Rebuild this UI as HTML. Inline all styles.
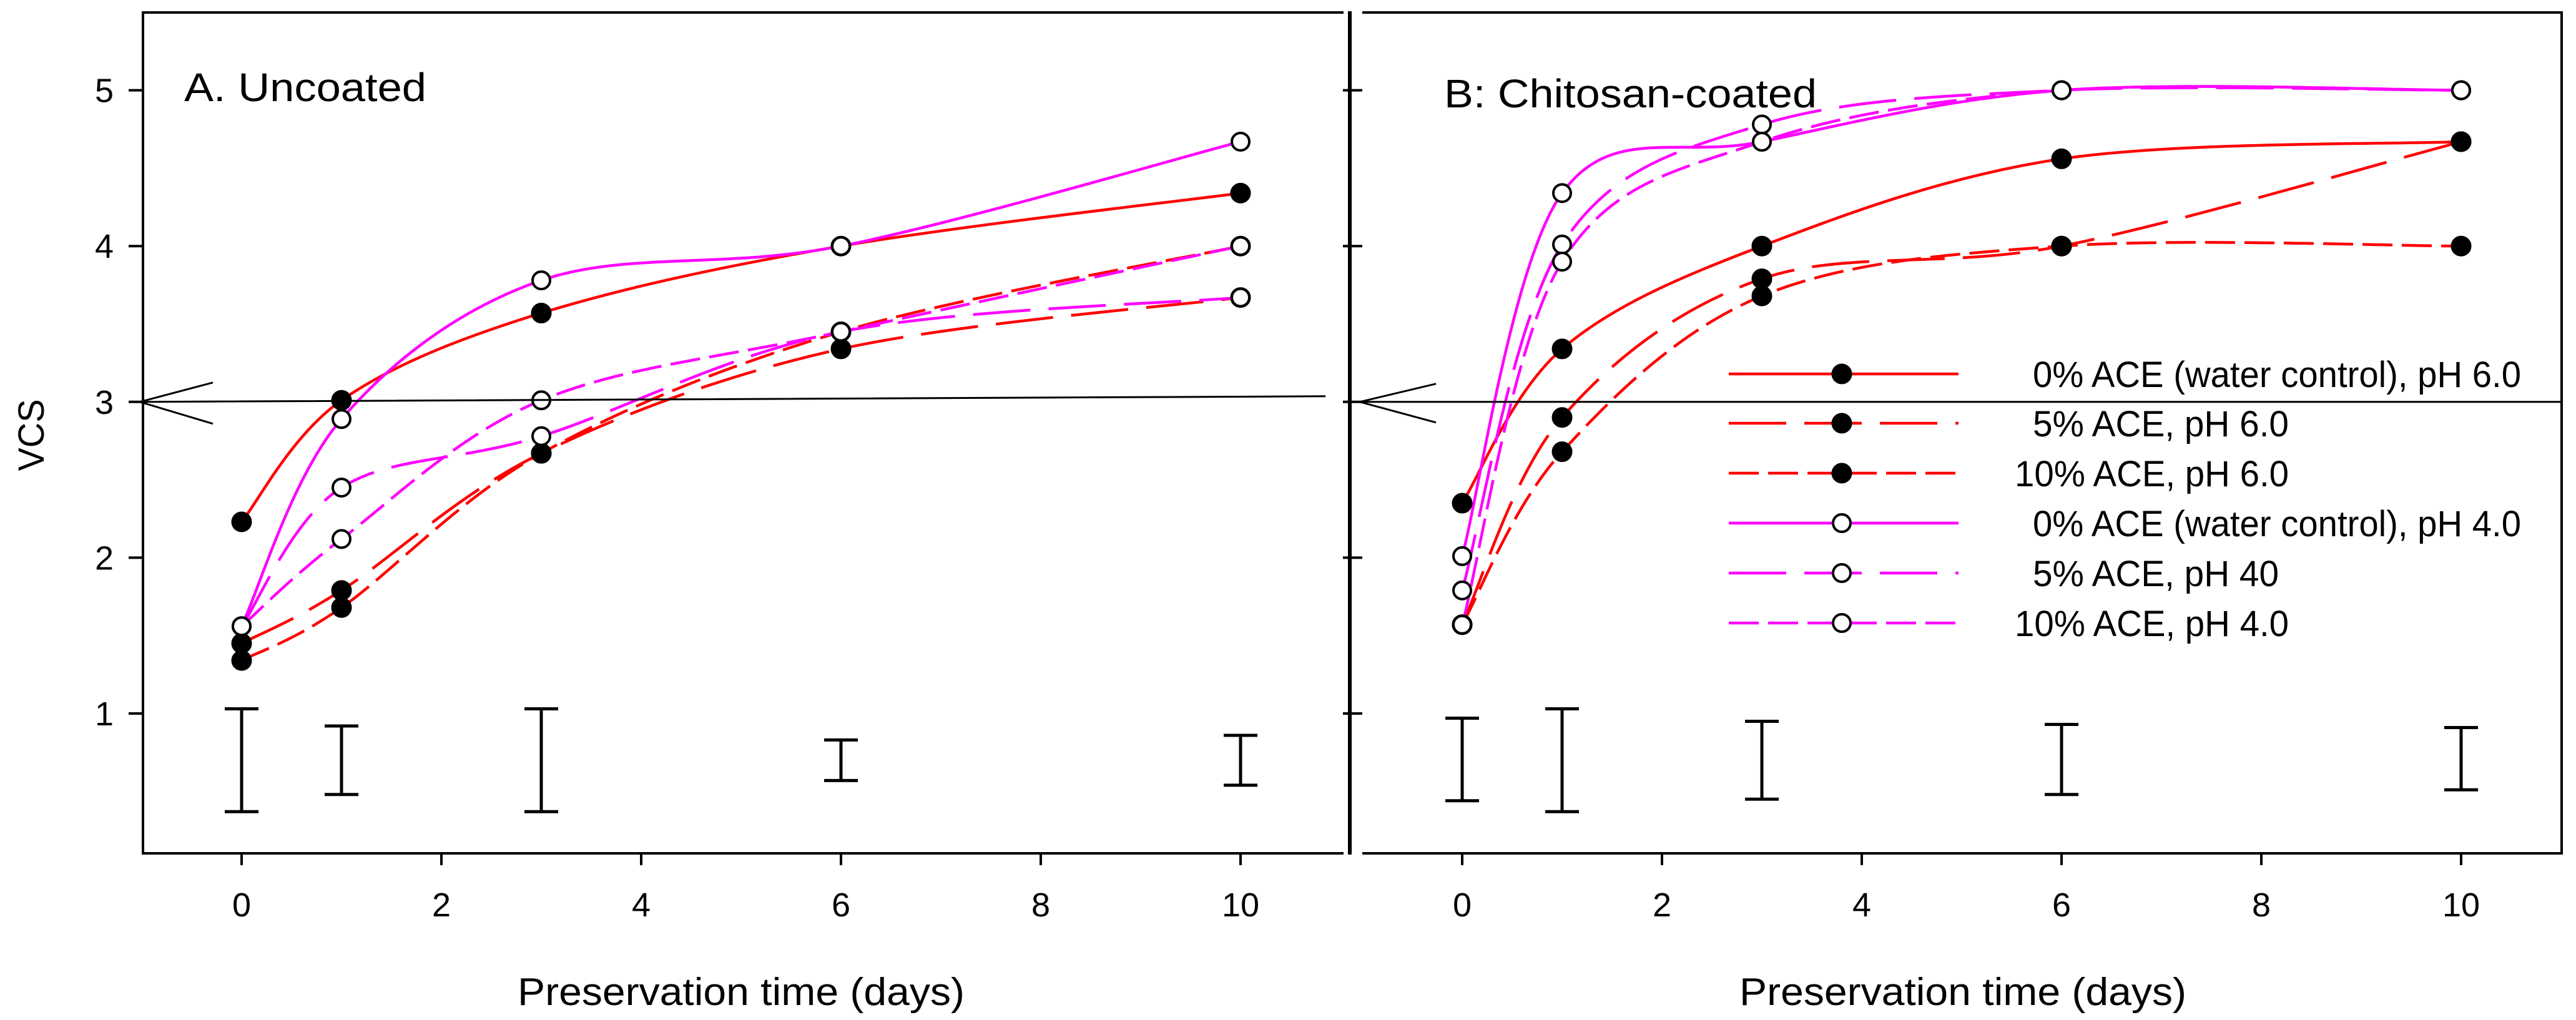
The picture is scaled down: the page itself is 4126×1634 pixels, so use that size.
<!DOCTYPE html>
<html><head><meta charset="utf-8"><style>
html,body{margin:0;padding:0;background:#fff}
svg{display:block}
text{font-family:"Liberation Sans Narrow","Liberation Sans",sans-serif;fill:#000}
</style></head><body>
<svg id="chart" width="4126" height="1634" viewBox="0 0 4126 1634" xmlns="http://www.w3.org/2000/svg">
<g id="root"></g>
</svg>
<script>
const days = [0, 1, 3, 6, 10];
const xTicks = [0, 2, 4, 6, 8, 10];
const yTicks = [1, 2, 3, 4, 5];
const seriesNames = ["0% ACE (water control), pH 6.0","5% ACE, pH 6.0","10% ACE, pH 6.0","0% ACE (water control), pH 4.0","5% ACE, pH 40","10% ACE, pH 4.0"];
const seriesKeys = ["ace0-ph6","ace5-ph6","ace10-ph6","ace0-ph4","ace5-ph4","ace10-ph4"];
// Panel A: uncoated
const a_ace0_ph6 = [2.23, 3.01, 3.57, 4.0, 4.34];
const a_ace5_ph6 = [1.45, 1.79, 2.67, 3.34, 3.67];
const a_ace10_ph6 = [1.34, 1.68, 2.67, 3.45, 4.0];
const a_ace0_ph4 = [1.56, 2.89, 3.78, 4.0, 4.67];
const a_ace5_ph4 = [1.56, 2.45, 2.78, 3.45, 3.67];
const a_ace10_ph4 = [1.56, 2.12, 3.01, 3.45, 4.0];
const a_errTop = [1.03, 0.92, 1.03, 0.83, 0.86];
const a_errBot = [0.37, 0.48, 0.37, 0.57, 0.54];
// Panel B: chitosan-coated
const b_ace0_ph6 = [2.35, 3.34, 4.0, 4.56, 4.67];
const b_ace5_ph6 = [1.57, 2.9, 3.79, 4.0, 4.67];
const b_ace10_ph6 = [1.57, 2.68, 3.68, 4.0, 4.0];
const b_ace0_ph4 = [2.01, 4.34, 4.67, 5.0, 5.0];
const b_ace5_ph4 = [1.79, 4.01, 4.78, 5.0, 5.0];
const b_ace10_ph4 = [1.57, 3.9, 4.67, 5.0, 5.0];
const b_errTop = [0.97, 1.03, 0.95, 0.93, 0.91];
const b_errBot = [0.44, 0.37, 0.45, 0.48, 0.51];
const thresholdVCS = 3;

const NS = "http://www.w3.org/2000/svg";
const root = document.getElementById("root");
function mk(tag, attrs, parent) {
  const e = document.createElementNS(NS, tag);
  for (const k in attrs) e.setAttribute(k, attrs[k]);
  (parent || root).appendChild(e);
  return e;
}
const styles = [
  {c:"#ff0000", d:"", fill:"#000"},
  {c:"#ff0000", d:"92 29", fill:"#000"},
  {c:"#ff0000", d:"48 15", fill:"#000"},
  {c:"#ff00ff", d:"", fill:"#fff"},
  {c:"#ff00ff", d:"92 29", fill:"#fff"},
  {c:"#ff00ff", d:"48 15", fill:"#fff"}
];
function yScale(v) { return 1143 - (v - 1) * 249.6; }
function spline(pts) {
  let d = "M" + pts[0][0] + "," + pts[0][1];
  for (let i = 0; i < pts.length - 1; i++) {
    const p0 = pts[i - 1] || pts[i], p1 = pts[i], p2 = pts[i + 1], p3 = pts[i + 2] || pts[i + 1];
    const c1x = p1[0] + (p2[0] - p0[0]) / 6, c1y = p1[1] + (p2[1] - p0[1]) / 6;
    const c2x = p2[0] - (p3[0] - p1[0]) / 6, c2y = p2[1] - (p3[1] - p1[1]) / 6;
    d += " C" + c1x + "," + c1y + " " + c2x + "," + c2y + " " + p2[0] + "," + p2[1];
  }
  return d;
}
function panel(id, x0, xLeft, xRight, hasLeftAxis, series, errTop, errBot, title, titleX, titleW, titleY, axTitleX) {
  const xs = v => x0 + v * 160;
  const g = mk("g", {});
  
  
  const fr = mk("path", {d:"M"+xLeft+",20 H"+xRight+" M"+xLeft+",1367 H"+xRight + (hasLeftAxis ? " M"+xLeft+",18 V1369" : " M"+xRight+",18 V1369"), stroke:"#000","stroke-width":4,fill:"none"}, g);
  
  
  xTicks.forEach(t => {
    const tk = mk("line", {x1:xs(t), x2:xs(t), y1:1367, y2:1386, stroke:"#000","stroke-width":4}, g);
    
    
    const lb = mk("text", {x:xs(t), y:1468, "font-size":54, "text-anchor":"middle"}, g);
    lb.textContent = t;
    
    
  });
  const at = mk("text", {x:axTitleX, y:1610, "font-size":62, "text-anchor":"middle", textLength:716, lengthAdjust:"spacingAndGlyphs"}, g);
  at.textContent = "Preservation time (days)";
  
  
  const tt = mk("text", {x:titleX, y:titleY, "font-size":64, textLength:titleW, lengthAdjust:"spacingAndGlyphs"}, g);
  tt.textContent = title;
  
  
  series.forEach((vals, si) => {
    const pts = days.map((d, i) => [xs(d), yScale(vals[i])]);
    const p = mk("path", {d:spline(pts), stroke:styles[si].c, "stroke-width":4.5, fill:"none", "stroke-dasharray":styles[si].d || "none"}, g);
    
    
  });
  series.forEach((vals, si) => {
    days.forEach((d, i) => {
      const c = mk("circle", {cx:xs(d), cy:yScale(vals[i]), r:styles[si].fill === "#000" ? 16 : 14, fill:styles[si].fill, stroke:"#000", "stroke-width":styles[si].fill === "#000" ? 1 : 4}, g);
      
      
    });
  });
  days.forEach((d, i) => {
    const x = xs(d), t = yScale(errTop[i]), b = yScale(errBot[i]);
    const e = mk("path", {d:"M"+x+","+t+" V"+b+" M"+(x-27)+","+t+" H"+(x+27)+" M"+(x-27)+","+b+" H"+(x+27), stroke:"#000","stroke-width":5, fill:"none"}, g);
    
    
  });
  return g;
}
const seriesA = [a_ace0_ph6, a_ace5_ph6, a_ace10_ph6, a_ace0_ph4, a_ace5_ph4, a_ace10_ph4];
const seriesB = [b_ace0_ph6, b_ace5_ph6, b_ace10_ph6, b_ace0_ph4, b_ace5_ph4, b_ace10_ph4];
panel("panel-a-uncoated", 387, 229, 2152, true, seriesA, a_errTop, a_errBot, "A. Uncoated", 295, 388, 162, 1187);
panel("panel-b-chitosan-coated", 2342, 2182, 4103, false, seriesB, b_errTop, b_errBot, "B: Chitosan-coated", 2313, 597, 172, 3144);

const mid = mk("line", {x1:2162, x2:2162, y1:18, y2:1369, stroke:"#000", "stroke-width":6});


yTicks.forEach(t => {
  const y = yScale(t);
  const a = mk("line", {x1:206, x2:229, y1:y, y2:y, stroke:"#000", "stroke-width":4});
  
  
  const b = mk("line", {x1:2151, x2:2182, y1:y, y2:y, stroke:"#000", "stroke-width":4});
  
  
  const l = mk("text", {x:182, y:y + 19, "font-size":54, "text-anchor":"end"});
  l.textContent = t;
  
  
});
const yt = mk("text", {x:0, y:0, "font-size":58, "text-anchor":"middle", textLength:115, lengthAdjust:"spacingAndGlyphs", transform:"translate(70,697) rotate(-90)"});
yt.textContent = "VCS";



const ty = yScale(thresholdVCS);
const th1 = mk("path", {d:"M224,"+ty+" L2123,"+(ty-9)+" M341,"+(ty-31)+" L224,"+ty+" L341,"+(ty+35), stroke:"#000", "stroke-width":3, fill:"none"});


const th2 = mk("path", {d:"M2178,"+ty+" L4103,"+ty+" M2300,"+(ty-29)+" L2178,"+ty+" L2300,"+(ty+33), stroke:"#000", "stroke-width":3, fill:"none"});



const legY = [599, 678, 758, 838, 918, 998];
const legTX = [3256, 3256, 3227, 3256, 3256, 3227];
const legTW = [782, 410, 439, 782, 394, 439];
const lg = mk("g", {});


seriesNames.forEach((n, i) => {
  const e = mk("g", {}, lg);
  
  
  mk("line", {x1:2769, x2:3137, y1:legY[i], y2:legY[i], stroke:styles[i].c, "stroke-width":4.5, "stroke-dasharray":styles[i].d || "none"}, e);
  mk("circle", {cx:2950, cy:legY[i], r:styles[i].fill === "#000" ? 16 : 14, fill:styles[i].fill, stroke:"#000", "stroke-width":styles[i].fill === "#000" ? 1 : 4}, e);
  const t = mk("text", {x:legTX[i], y:legY[i] + 21, "font-size":58, textLength:legTW[i], lengthAdjust:"spacingAndGlyphs"}, e);
  t.textContent = n;
});
</script>
</body></html>
